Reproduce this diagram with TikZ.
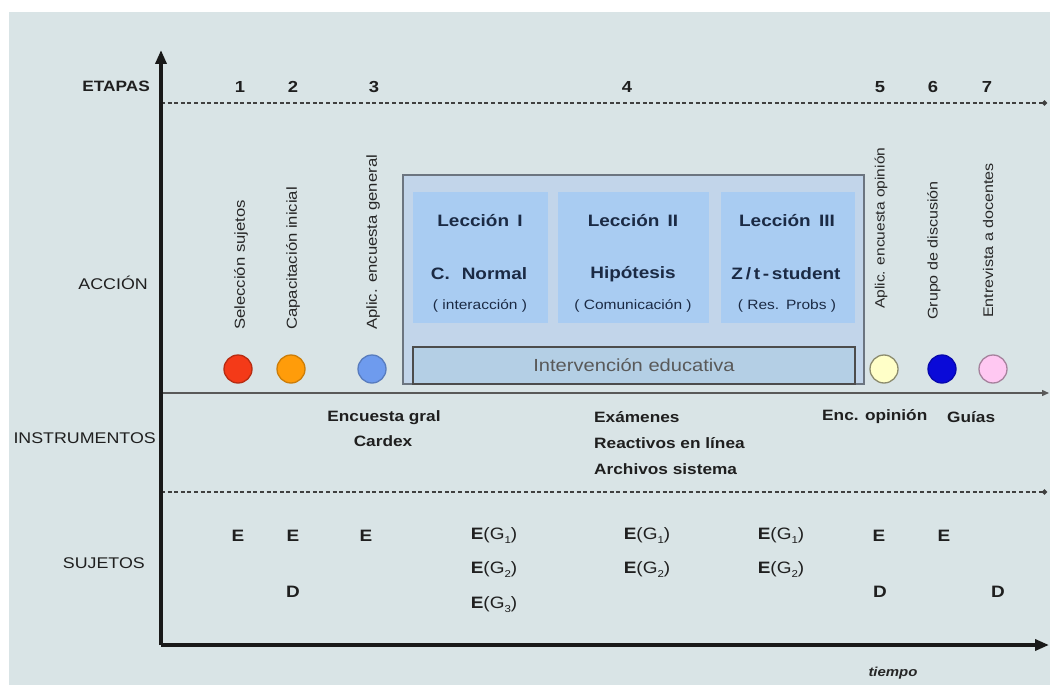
\documentclass[tikz,border=0pt]{standalone}
\usepackage{fontspec}
\setmainfont{Liberation Sans}[FakeStretch=1.15]
\usetikzlibrary{arrows.meta}

\definecolor{panel}{HTML}{D9E4E6}
\definecolor{outerfill}{HTML}{C2D5EA}
\definecolor{outerline}{HTML}{6C7580}
\definecolor{lessonfill}{HTML}{A9CCF2}
\definecolor{intfill}{HTML}{B4CFE5}
\definecolor{navy}{HTML}{1B2A44}
\definecolor{cRed}{HTML}{F43A18}
\definecolor{cOrange}{HTML}{FF9C0A}
\definecolor{cBlue}{HTML}{6E9BEE}
\definecolor{cCream}{HTML}{FFFFC8}
\definecolor{cDeep}{HTML}{0A0AD8}
\definecolor{cPink}{HTML}{FFC8F2}

\newcommand{\fs}[1]{\fontsize{#1}{#1}\selectfont}
\newcommand{\EG}[1]{\textbf{E}(G\raisebox{-4pt}{\fs{10}#1})}

\tikzset{
  mainaxis/.style={line width=3.4pt, draw=black!90, -{Triangle[length=14pt,width=11pt]}},
  dotline/.style={line width=1.7pt, draw=black!75, dash pattern=on 4pt off 2.6pt, -{Circle[length=5pt]}},
  midline/.style={line width=1.3pt, draw=black!65, -{Triangle[length=7pt,width=6pt]}},
  rowlbl/.style={anchor=east, inner sep=0pt, font=\fs{15.5}, text=black!88},
  stagenum/.style={inner sep=0pt, font=\fs{16}\bfseries, text=black!88},
  vlabel/.style={rotate=90, anchor=west, inner sep=0pt, font=\fs{14.5}, text=black!85},
  marker/.style={circle, minimum size=28pt, inner sep=0pt, line width=1.3pt},
  lessonbox/.style={fill=lessonfill, draw=none, inner sep=0pt},
  lessontitle/.style={inner sep=0pt, font=\fs{16.5}\bfseries, text=navy},
  lessonsub/.style={inner sep=0pt, font=\fs{13.5}, text=navy},
  instr/.style={anchor=west, inner sep=0pt, font=\fs{15}\bfseries, text=black!88},
  subj/.style={inner sep=0pt, font=\fs{16.5}, text=black!88},
}

\begin{document}
\begin{tikzpicture}[x=1pt,y=-1pt]
\useasboundingbox (0,0) rectangle (1050,685);
\fill[white] (0,0) rectangle (1050,685);
\fill[panel] (9,12) rectangle (1050,685);

% axes and row separators
\coordinate (origin) at (161,645);
\coordinate (ytip) at (161,50);
\coordinate (xtip) at (1049,645);
\coordinate (etS) at (161,103);  \coordinate (etE) at (1047,103);
\coordinate (acS) at (161,393);  \coordinate (acE) at (1049,393);
\coordinate (inS) at (161,492);  \coordinate (inE) at (1047,492);

\draw[dotline] (etS) -- (etE);
\draw[midline] (acS) -- (acE);
\draw[dotline] (inS) -- (inE);
\draw[mainaxis] (origin) -- (ytip);
\draw[mainaxis] (origin) -- (xtip);

% row labels
\node[rowlbl, font=\fs{15}\bfseries] (etapas) at (150,86) {ETAPAS};
\node[rowlbl] (accion) at (148,283) {ACCIÓN};
\node[rowlbl] (instrumentos) at (156,438) {INSTRUMENTOS};
\node[rowlbl] (sujetos) at (145,563) {SUJETOS};
\node[inner sep=0pt, font=\fs{13}\bfseries\itshape, text=black!85] (tiempo) at (893,673) {tiempo};

% stage numbers
\node[stagenum] (s1) at (240,87) {1};
\node[stagenum] (s2) at (293,87) {2};
\node[stagenum] (s3) at (374,87) {3};
\node[stagenum] (s4) at (627,87) {4};
\node[stagenum] (s5) at (880,87) {5};
\node[stagenum] (s6) at (933,87) {6};
\node[stagenum] (s7) at (987,87) {7};

% actions
\node[vlabel] (a1) at (241,330) {Selección sujetos};
\node[vlabel] (a2) at (293,330) {Capacitación inicial};
\node[vlabel] (a3) at (373,330) {Aplic. encuesta general};
\node[vlabel, font=\fs{13.5}] (a5) at (881,309) {Aplic. encuesta opinión};
\node[vlabel, font=\fs{14}] (a6) at (934,320) {Grupo de discusión};
\node[vlabel, font=\fs{14}] (a7) at (988,318) {Entrevista a docentes};

\node[marker, fill=cRed, draw=cRed!75!black] (m1) at (238,369) {};
\node[marker, fill=cOrange, draw=cOrange!80!black] (m2) at (291,369) {};
\node[marker, fill=cBlue, draw=cBlue!80!black] (m3) at (372,369) {};
\node[marker, fill=cCream, draw=black!45!cCream] (m5) at (884,369) {};
\node[marker, fill=cDeep, draw=cDeep!80!black] (m6) at (942,369) {};
\node[marker, fill=cPink, draw=black!35!cPink] (m7) at (993,369) {};

% educational intervention block
\draw[fill=outerfill, draw=outerline, line width=1.3pt] (403,175) rectangle (864,384);
\node[lessonbox, minimum width=135pt, minimum height=131pt] (l1) at (480.5,257.5) {};
\node[lessonbox, minimum width=151pt, minimum height=131pt] (l2) at (633.5,257.5) {};
\node[lessonbox, minimum width=134pt, minimum height=131pt] (l3) at (788,257.5) {};
\node[fill=intfill, draw=black!70, line width=1.1pt, minimum width=442pt, minimum height=37pt, inner sep=0pt,
      font=\fs{17.5}, text=black!65] (interv) at (634,365.5) {Intervención educativa};

\node[lessontitle] (l1t) at (480,221) {Lección\enspace I};
\node[lessontitle] (l1m) at (479,274) {C.\hspace{12pt}Normal};
\node[lessonsub] (l1s) at (480,306) {( interacción )};
\node[lessontitle] (l2t) at (633,221) {Lección\enspace II};
\node[lessontitle] (l2m) at (633,274) {Hipótesis};
\node[lessonsub] (l2s) at (633,306) {( Comunicación )};
\node[lessontitle] (l3t) at (787,221) {Lección\enspace III};
\node[lessontitle] (l3m) at (786,274) {Z\,/\,t\,-\,student};
\node[lessonsub] (l3s) at (787,306) {( Res.\enspace Probs )};

% instruments
\node[instr, anchor=center] (i3a) at (384,418) {Encuesta gral};
\node[instr, anchor=center] (i3b) at (383,441) {Cardex};
\node[instr] (i4a) at (594,417) {Exámenes};
\node[instr] (i4b) at (594,443) {Reactivos en línea};
\node[instr] (i4c) at (594,469) {Archivos sistema};
\node[instr] (i5) at (822,417) {Enc. opinión};
\node[instr] (i6) at (947,417) {Guías};

% subjects
\node[subj] (e1) at (238,536) {\textbf{E}};
\node[subj] (e2) at (293,536) {\textbf{E}};
\node[subj] (e3) at (366,536) {\textbf{E}};
\node[subj] (g41) at (494,536) {\EG{1}};
\node[subj] (g42) at (494,570) {\EG{2}};
\node[subj] (g43) at (494,605) {\EG{3}};
\node[subj] (g51) at (647,536) {\EG{1}};
\node[subj] (g52) at (647,570) {\EG{2}};
\node[subj] (g61) at (781,536) {\EG{1}};
\node[subj] (g62) at (781,570) {\EG{2}};
\node[subj] (e5) at (879,536) {\textbf{E}};
\node[subj] (e6) at (944,536) {\textbf{E}};
\node[subj] (d2) at (293,592) {\textbf{D}};
\node[subj] (d5) at (880,592) {\textbf{D}};
\node[subj] (d7) at (998,592) {\textbf{D}};
\end{tikzpicture}
\end{document}
